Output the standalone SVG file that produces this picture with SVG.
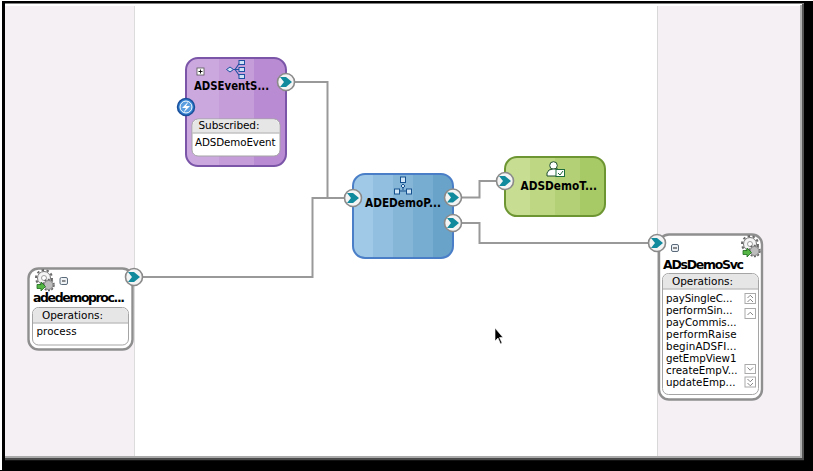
<svg xmlns="http://www.w3.org/2000/svg" width="813" height="471" viewBox="0 0 813 471">
<defs>
<linearGradient id="purple" x1="0" x2="1" y1="0" y2="0"><stop offset="0" stop-color="#cba9df"/><stop offset=".33" stop-color="#cba9df"/><stop offset=".33" stop-color="#c49dd9"/><stop offset=".68" stop-color="#c49dd9"/><stop offset=".68" stop-color="#b98bd2"/><stop offset="1" stop-color="#b98bd2"/></linearGradient>
<linearGradient id="blue" x1="0" x2="1" y1="0" y2="0"><stop offset="0" stop-color="#9fc9e6"/><stop offset=".2" stop-color="#9fc9e6"/><stop offset=".2" stop-color="#92bfdf"/><stop offset=".4" stop-color="#92bfdf"/><stop offset=".4" stop-color="#85b6d8"/><stop offset=".6" stop-color="#85b6d8"/><stop offset=".6" stop-color="#78add2"/><stop offset=".8" stop-color="#78add2"/><stop offset=".8" stop-color="#69a3ca"/><stop offset="1" stop-color="#69a3ca"/></linearGradient>
<linearGradient id="green" x1="0" x2="1" y1="0" y2="0"><stop offset="0" stop-color="#c6dd92"/><stop offset=".25" stop-color="#c6dd92"/><stop offset=".25" stop-color="#bdd783"/><stop offset=".5" stop-color="#bdd783"/><stop offset=".5" stop-color="#b3d076"/><stop offset=".75" stop-color="#b3d076"/><stop offset=".75" stop-color="#a7c966"/><stop offset="1" stop-color="#a7c966"/></linearGradient>
<g id="port"><circle r="8.5" fill="#f4f4f4" stroke="#8a8a8a" stroke-width="1.6"/><path d="M-6-5H0L6 0 0 5H-6L-2 0Z" fill="#128a9e"/></g>
<g id="gear"><circle cx="0" cy="-1" r="8" fill="none" stroke="#6a6a6a" stroke-dasharray="2.500 2.500" stroke-width="2"/><circle cx="0" cy="-1" r="6.500" fill="#f4f4f4" stroke="#777" stroke-width="1"/><circle cx="0" cy="-1" r="2.500" fill="#fff" stroke="#888" stroke-width=".8"/><circle cx="4.500" cy="6" r="5.500" fill="none" stroke="#666" stroke-dasharray="2 1.500" stroke-width="1.500"/><circle cx="4.500" cy="6" r="4.500" fill="#bdbdbd" stroke="#666" stroke-width=".8"/><path d="M-7 5.500h4v-2.500l4.500 4.500-4.500 4.500v-2.500h-4z" fill="#55b545" stroke="#1d6b1d" stroke-width=".8"/></g>
</defs>
<style>
text{font-family:"DejaVu Sans",sans-serif;fill:#000}
.t{font-size:12.5px;font-weight:700}
.h{font-size:10.5px}
.o{font-size:10.300px;letter-spacing:.5px}
.c{fill:none;stroke:#999;stroke-width:2}
.card{fill:#fff;stroke:#8f8f8f;stroke-width:2.4}
.box{fill:#fff;stroke:#a5a5a5;stroke-width:1}
.hd{fill:#e6e6e6}
.sb{fill:#fff;stroke:#aaa;stroke-width:1}
.ch{fill:none;stroke:#777;stroke-width:.9}
</style>
<rect width="813" height="471" fill="#fff"/>
<rect x="2" y="1" width="811" height="469" fill="#000"/>
<rect x="0" y="470" width="813" height="1" fill="#000"/>
<rect x="5" y="3.500" width="799" height="456.500" fill="#fff"/>
<rect x="5" y="6" width="130" height="450" fill="#f5f0f4"/>
<rect x="658" y="6" width="142" height="450" fill="#f5f0f4"/>
<rect x="134" y="6" width="1" height="450" fill="#dcdcdc"/>
<rect x="657" y="6" width="1" height="450" fill="#d8d8d8"/>
<rect x="800" y="5" width="2" height="453" fill="#b0b0b0"/>
<rect x="802" y="4" width="2" height="456" fill="#555"/>
<rect x="5" y="456" width="797" height="2" fill="#aaa"/>
<rect x="5" y="458" width="799" height="2.500" fill="#4a4a4a"/>
<rect x="2" y="460.500" width="811" height="10.500" fill="#000"/>
<rect x="804" y="1" width="9" height="470" fill="#000"/>
<g id="connectors">
<path class="c" d="M294 82H327.500V198"/>
<path class="c" d="M141 277H312.500V198H344"/>
<path class="c" d="M461 197.500H479.500V181H497"/>
<path class="c" d="M461 223H479.500V243H649"/>
</g>
<g id="adsEventSub">
<rect x="186" y="58" width="100" height="108" rx="12" fill="url(#purple)" stroke="#7a55a8" stroke-width="2"/>
<rect x="197" y="68" width="7" height="7" fill="#fff" stroke="#555" stroke-width=".8"/><path d="M198.500 71.500h4M200.500 69.500v4" stroke="#000" stroke-width=".9"/>
<path d="M231 69.500H235M235 69.500L240 62.500M235 69.500L240 69.500M235 69.500L240 76.500" stroke="#1f4fa0" fill="none" stroke-width="1.100"/>
<path d="M226.500 69.500L230 67 233.500 69.500 230 72Z" fill="#cfe1f5" stroke="#1f4fa0"/>
<g fill="#cfe1f5" stroke="#1f4fa0" stroke-width="1"><rect x="239" y="60.500" width="5.500" height="4"/><rect x="239" y="67.500" width="5.500" height="4"/><rect x="239" y="74.500" width="5.500" height="4"/></g>
<text class="t" x="194" y="90" textLength="75" lengthAdjust="spacingAndGlyphs">ADSEventS...</text>
<circle cx="186" cy="107" r="8.500" fill="#2f7fd0" stroke="#1b4f9a" stroke-width="1.500"/><circle cx="186" cy="107" r="6" fill="#5b9fe0" stroke="#fff" stroke-width="1"/><path d="M189 101L182 108H186L183 113L190 106H186Z" fill="#fff"/>
<rect class="box" x="192" y="119" width="88" height="37" rx="6"/>
<path class="hd" d="M193 132.500V125a5.500 5.500 0 0 1 5.500-5.500H273.500a5.500 5.500 0 0 1 5.500 5.500V132.500Z"/><path d="M192.500 133H279.500" stroke="#a5a5a5"/>
<text class="h" x="198.500" y="129" textLength="61">Subscribed:</text>
<text class="o" x="195" y="146" textLength="81">ADSDemoEvent</text>
<use href="#port" x="286" y="82"/>
</g>
<g id="adeDemoProcess">
<rect x="353" y="174" width="100" height="84" rx="12" fill="url(#blue)" stroke="#4a7fc8" stroke-width="2"/>
<g fill="#cfe4f5" stroke="#14508e" stroke-width="1"><path d="M403 186.500V190M397 194V191H409V194" fill="none"/><rect x="400.500" y="177" width="5" height="5.500"/><path d="M403 184L405 186 403 188 401 186Z"/><rect x="394.500" y="189" width="5" height="5"/><rect x="406.500" y="189" width="5" height="5"/></g>
<text class="t" x="365" y="207" textLength="76" lengthAdjust="spacingAndGlyphs">ADEDemoP...</text>
<use href="#port" x="353" y="198"/>
<use href="#port" x="453" y="197.500"/>
<use href="#port" x="453" y="223"/>
</g>
<g id="adsDemoTask">
<rect x="505" y="157" width="100" height="59" rx="12" fill="url(#green)" stroke="#6d9632" stroke-width="2"/>
<circle cx="553.500" cy="165.500" r="3.800" fill="#fff" stroke="#1c4d2b" stroke-width="1"/><path d="M547 176V173Q548 169 553 169H558V176Z" fill="#fff" stroke="#1c4d2b" stroke-width="1"/><rect x="556" y="169.500" width="8.500" height="7" fill="#fff" stroke="#1c6b3a"/><path d="M558 173L560 175 563 171" fill="none" stroke="#1c6b3a"/>
<text class="t" x="520.500" y="190" textLength="76.500" lengthAdjust="spacingAndGlyphs">ADSDemoT...</text>
<use href="#port" x="505" y="181"/>
</g>
<g id="adedemoprocess">
<rect class="card" x="28.500" y="268.500" width="104" height="81" rx="10"/>
<use href="#gear" x="44" y="279"/>
<rect x="60" y="277.500" width="7.500" height="7" rx="1.500" fill="#eef2f5" stroke="#5a6a7a"/><path d="M62 281h3.500" stroke="#222"/>
<text class="t" x="33" y="302" textLength="92">adedemoproc...</text>
<rect class="box" x="32.500" y="307.500" width="96" height="37.500" rx="6"/>
<path class="hd" d="M33 322.500V314a6 6 0 0 1 6-6H122a6 6 0 0 1 6 6V322.500Z"/><path d="M33 323H128" stroke="#a5a5a5"/>
<text class="h" x="42" y="319" textLength="61">Operations:</text>
<text class="o" x="36.500" y="335" textLength="40.500">process</text>
<use href="#port" x="134" y="277"/>
</g>
<g id="adsDemoSvc">
<rect class="card" x="659" y="234.500" width="103" height="165" rx="10"/>
<use href="#gear" x="750" y="245"/>
<rect x="671.500" y="244.500" width="7" height="7" rx="1.500" fill="#eef2f5" stroke="#5a6a7a"/><path d="M673 248h4" stroke="#222"/>
<text class="t" x="663" y="269" textLength="81">ADsDemoSvc</text>
<rect class="box" x="662.500" y="273.500" width="96" height="121" rx="6"/>
<path class="hd" d="M663 288.500V280a6 6 0 0 1 6-6H752a6 6 0 0 1 6 6V288.500Z"/><path d="M663 289H758" stroke="#a5a5a5"/>
<text class="h" x="672" y="285" textLength="61">Operations:</text>
<text class="o" x="666" y="302" textLength="67">paySingleC...</text>
<text class="o" x="666" y="314" textLength="67">performSin...</text>
<text class="o" x="666" y="326" textLength="71">payCommis...</text>
<text class="o" x="666" y="338" textLength="71">performRaise</text>
<text class="o" x="666" y="350" textLength="71">beginADSFI...</text>
<text class="o" x="666" y="362" textLength="71">getEmpView1</text>
<text class="o" x="666" y="374" textLength="72">createEmpV...</text>
<text class="o" x="666" y="386" textLength="70">updateEmp...</text>
<rect class="sb" x="745" y="293.500" width="10.500" height="10"/><path class="ch" d="M747.500 298l2.750-2.750 2.750 2.750M747.500 302l2.750-2.750 2.750 2.750"/>
<rect class="sb" x="745" y="308.500" width="10.500" height="10"/><path class="ch" d="M747.500 315l2.750-2.750 2.750 2.750"/>
<rect class="sb" x="745" y="364.500" width="10.500" height="9"/><path class="ch" d="M747.500 367.500l2.750 2.750 2.750-2.750"/>
<rect class="sb" x="745" y="377" width="10.500" height="10"/><path class="ch" d="M747.500 379l2.750 2.750 2.750-2.750M747.500 383l2.750 2.750 2.750-2.750"/>
<use href="#port" x="657" y="243"/>
</g>
<path d="M495 328V341L498 338L500.500 344L502 343L499.500 337.500H503Z" fill="#000" stroke="#fff" stroke-width=".6"/>
</svg>
